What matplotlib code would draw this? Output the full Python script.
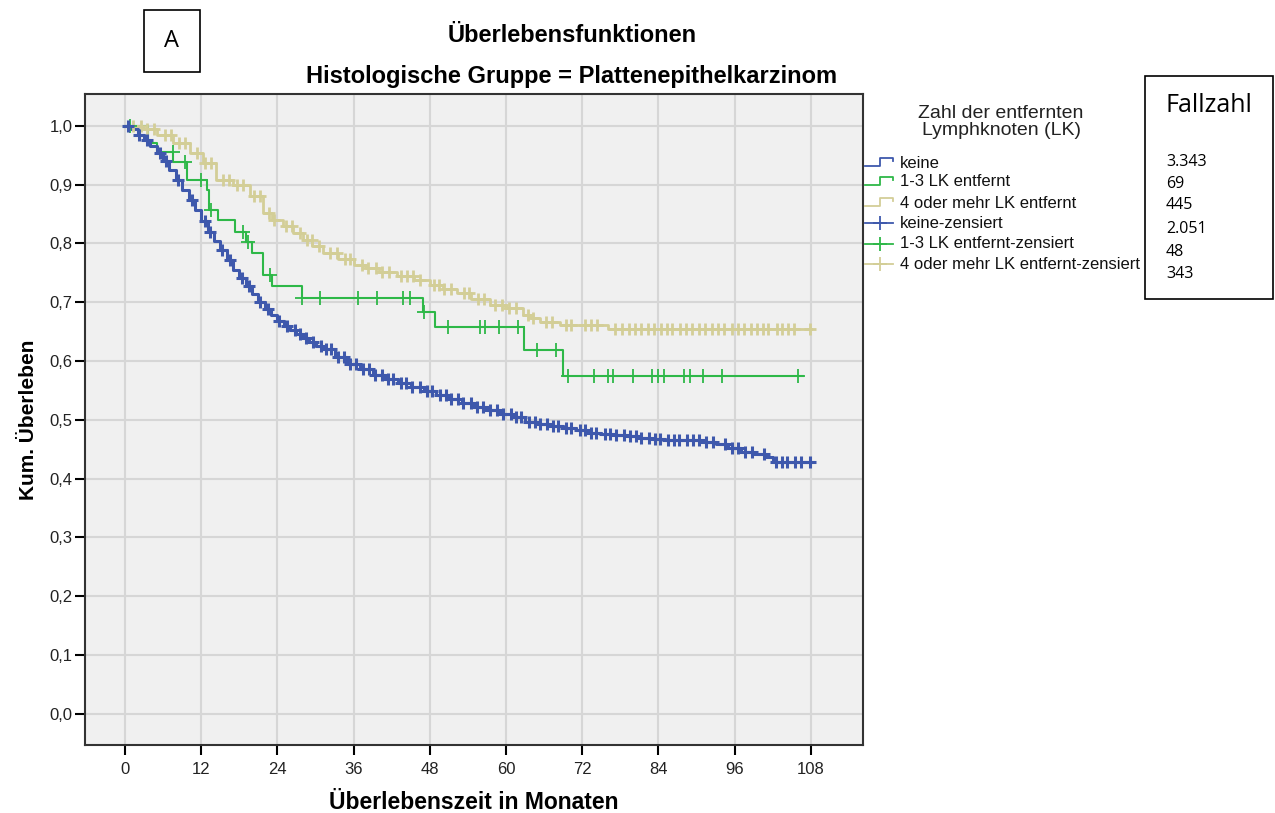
import numpy as np
import matplotlib
matplotlib.use('Agg')
import matplotlib.pyplot as plt
from matplotlib.lines import Line2D
from matplotlib.patches import Rectangle

plt.rcParams['font.family'] = ['Liberation Sans', 'DejaVu Sans']

# Kaplan-Meier steps (months, survival)
keine_t = [0, 1, 2, 3, 4, 5, 6, 7, 8, 9, 10, 11, 12, 13, 14, 15, 16, 17, 18, 19,
           20, 21, 22, 23, 24, 25, 26, 27, 28, 29, 30, 31, 33, 35, 37, 39, 41, 43,
           45, 47, 49, 51, 53, 55, 57, 59, 61, 63, 65, 67, 69, 71, 73, 75, 77, 79,
           81, 83, 85, 89, 91, 93, 95, 97, 99, 101, 102]
keine_s = [1.0, 0.995, 0.985, 0.975, 0.965, 0.954, 0.94, 0.925, 0.908, 0.89,
           0.873, 0.857, 0.838, 0.82, 0.804, 0.789, 0.772, 0.755, 0.741, 0.728,
           0.714, 0.70, 0.689, 0.678, 0.668, 0.66, 0.653, 0.646, 0.639, 0.632,
           0.626, 0.62, 0.606, 0.595, 0.586, 0.577, 0.57, 0.562, 0.555, 0.549,
           0.543, 0.536, 0.528, 0.522, 0.516, 0.51, 0.504, 0.497, 0.492, 0.489,
           0.486, 0.482, 0.478, 0.476, 0.474, 0.472, 0.469, 0.467, 0.466, 0.465,
           0.463, 0.458, 0.452, 0.446, 0.442, 0.437, 0.429]
keine_end = 108
keine_cens = [0.5, 2.2, 3.5, 5.5, 6.4, 8.3, 10.5, 12.6, 13.4, 15.3, 16.6, 18.4, 19.5,
              21.2, 22.5, 24.3, 25.5, 26.7, 27.6, 28.5, 29.6, 30.8, 31.7, 32.5, 33.6,
              34.5, 35.4, 36.3, 37.5, 38.4, 39.3, 40.5, 41.4, 42.2, 43.4, 44.3, 45.2,
              46.4, 47.5, 48.3, 49.6, 50.5, 51.3, 52.4, 53.2, 54.5, 55.5, 56.3, 57.4,
              58.6, 59.5, 60.8, 61.5, 62.4, 63.6, 64.5, 65.3, 66.5, 67.4, 68.2, 69.5,
              70.3, 71.6, 72.5, 73.4, 74.2, 75.5, 76.4, 77.3, 78.6, 79.5, 80.4, 81.3,
              82.5, 83.4, 84.3, 85.5, 86.4, 87.3, 88.5, 89.4, 90.3, 91.5, 92.6, 94.4,
              95.6, 96.5, 97.6, 98.8, 100.6, 102.5, 103.4, 104.3, 105.5, 106.4, 107.9]

lk13_t = [0, 3.6, 5, 7.6, 9.8, 12.9, 13.3, 14.7, 17.3, 19, 20, 21.8, 23.2, 27.8,
          46.9, 48.8, 62.8, 68.9]
lk13_s = [1.0, 0.97, 0.956, 0.939, 0.908, 0.891, 0.857, 0.84, 0.82, 0.803, 0.783,
          0.747, 0.727, 0.707, 0.684, 0.657, 0.619, 0.575]
lk13_end = 106.8
lk13_cens = [0.8, 7.5, 9.5, 12.0, 13.6, 18.5, 19.3, 22.8, 27.9, 30.7, 36.7, 39.6,
             43.8, 44.9, 47.0, 50.9, 55.9, 56.7, 58.9, 61.8, 64.8, 67.9, 69.8, 73.9,
             76.0, 76.9, 80.0, 82.9, 84.0, 84.9, 88.0, 89.0, 91.0, 94.0, 106.0]

lk4_t = [0, 2.8, 5, 7.6, 10.2, 12.3, 14.4, 17, 19.7, 21.7, 23.2, 24.9, 26.5, 28,
         29.5, 31.2, 33.5, 36, 38, 40, 42.8, 45.5, 48, 50, 52.2, 54.5, 57.5, 60,
         62.7, 64, 65.4, 68.5, 76]
lk4_s = [1.0, 0.995, 0.985, 0.971, 0.954, 0.937, 0.908, 0.9, 0.88, 0.852, 0.84,
         0.829, 0.817, 0.805, 0.795, 0.784, 0.774, 0.764, 0.758, 0.752, 0.744,
         0.737, 0.73, 0.722, 0.715, 0.706, 0.696, 0.69, 0.679, 0.673, 0.667,
         0.661, 0.655]
lk4_end = 108
lk4_cens = [1.2, 2.5, 3.4, 4.6, 6.3, 7.2, 8.5, 9.4, 11.3, 12.6, 13.5, 15.4, 16.3,
            17.6, 18.5, 20.3, 21.2, 22.6, 23.5, 25.4, 26.3, 27.5, 28.6, 29.4, 30.5,
            32.3, 33.4, 34.6, 35.5, 37.3, 38.2, 39.5, 40.4, 41.6, 43.5, 44.4, 45.3,
            46.5, 48.6, 49.5, 50.3, 51.4, 53.3, 54.2, 55.6, 56.5, 58.3, 59.4, 60.5,
            61.6, 63.4, 64.3, 66.3, 67.2, 69.4, 70.3, 72.5, 73.4, 74.3, 77.2, 78.3,
            79.4, 80.3, 81.2, 82.4, 83.3, 84.4, 85.3, 86.2, 87.4, 88.3, 89.2, 90.4,
            91.3, 92.5, 93.4, 94.3, 95.6, 96.5, 97.4, 98.6, 99.5, 100.4, 101.3,
            102.6, 103.5, 104.4, 105.3, 107.9]

legend_labels = ['keine', '1-3 LK entfernt', '4 oder mehr LK entfernt',
                 'keine-zensiert', '1-3 LK entfernt-zensiert',
                 '4 oder mehr LK entfernt-zensiert']
fallzahl = ['3.343', '69', '445', '2.051', '48', '343']

c_blue = '#3e58ac'
c_green = '#2eb848'
c_tan = '#d3ce97'

W, H = 1275, 813
fig = plt.figure(figsize=(W / 100, H / 100), dpi=100)


def fx(x):
    return x / W


def fy(y):
    return 1 - y / H


ax = fig.add_axes([fx(85), fy(745), fx(863) - fx(85), fy(94) - fy(745)])
ax.set_facecolor('#f0f0f0')


def km(ax, t, s, end, cens, color, lw, ms, mew):
    tt = list(t) + [end]
    ss = list(s) + [s[-1]]
    ax.step(tt, ss, where='post', color=color, lw=lw, zorder=3)
    idx = np.searchsorted(np.array(t), np.array(cens), side='right') - 1
    cy = np.array(s)[idx]
    ax.plot(cens, cy, ls='none', marker='+', color=color, ms=ms, mew=mew, zorder=4)


km(ax, lk4_t, lk4_s, lk4_end, lk4_cens, c_tan, 2.0, 9, 2.0)
km(ax, lk13_t, lk13_s, lk13_end, lk13_cens, c_green, 1.5, 10, 1.3)
km(ax, keine_t, keine_s, keine_end, keine_cens, c_blue, 2.2, 9, 2.2)

ax.set_xlim(-6.3, 116.2)
ax.set_ylim(-0.053, 1.054)
xt = np.arange(0, 109, 12)
yt = np.arange(0, 11) / 10
ax.set_xticks(xt)
ax.set_xticklabels([str(v) for v in xt])
ax.set_yticks(yt)
ax.set_yticklabels([('%.1f' % v).replace('.', ',') for v in yt])
ax.grid(True, color='#d6d6d6', lw=1.5, zorder=0)
ax.set_axisbelow(True)
ax.tick_params(direction='out', length=7, width=1.5, labelsize=12, pad=2,
               labelcolor='#222222')
ax.tick_params(axis='x', pad=5)
for sp in ax.spines.values():
    sp.set_linewidth(1.5)
    sp.set_color('#333333')

ax.set_xlabel('Überlebenszeit in Monaten', fontsize=16.5, fontweight='bold', labelpad=10)
ax.set_ylabel('Kum. Überleben', fontsize=15, fontweight='bold', labelpad=8)

fig.text(fx(572), fy(35), 'Überlebensfunktionen', fontsize=17, fontweight='bold',
         ha='center', va='center')
fig.text(fx(572), fy(76), 'Histologische Gruppe = Plattenepithelkarzinom', fontsize=17,
         fontweight='bold', ha='center', va='center')

# "A" box
fig.add_artist(Rectangle((fx(144), fy(72)), fx(200) - fx(144), fy(10) - fy(72),
                         transform=fig.transFigure, fill=False, lw=1.2, ec='black'))
fig.text(fx(172), fy(41), 'A', fontsize=17, ha='center', va='center',
         family=['Open Sans', 'DejaVu Sans'])

# legend
fig.text(fx(1001), fy(122), 'Zahl der entfernten\nLymphknoten (LK)', fontsize=14,
         ha='center', va='center', linespacing=1.05, color='#222222')
rows_y = [163, 182, 203, 223, 244, 264]
cols = [c_blue, c_green, c_tan, c_blue, c_green, c_tan]
for i, (lab, yy, c) in enumerate(zip(legend_labels, rows_y, cols)):
    if i < 3:
        xs = [865, 880, 880, 893, 893]
        ys = [yy + 3, yy + 3, yy - 5, yy - 5, yy - 2]
        fig.add_artist(Line2D([fx(v) for v in xs], [fy(v) for v in ys],
                              transform=fig.transFigure, color=c, lw=1.3))
    else:
        fig.add_artist(Line2D([fx(865), fx(893)], [fy(yy), fy(yy)],
                              transform=fig.transFigure, color=c, lw=1.3))
        fig.add_artist(Line2D([fx(880)], [fy(yy)], transform=fig.transFigure,
                              color=c, marker='+', ms=10, mew=1.3, ls='none'))
    fig.text(fx(900), fy(yy), lab, fontsize=12, ha='left', va='center',
             color='#111111')

# Fallzahl box
fig.add_artist(Rectangle((fx(1145), fy(299)), fx(1273) - fx(1145), fy(76) - fy(299),
                         transform=fig.transFigure, fill=False, lw=1.2, ec='black'))
fig.text(fx(1165), fy(105), 'Fallzahl', fontsize=18, ha='left', va='center',
         family=['Open Sans', 'DejaVu Sans'])
num_y = [162, 184, 205, 229, 252, 274]
for n, yy in zip(fallzahl, num_y):
    fig.text(fx(1166), fy(yy), n, fontsize=11.5, ha='left', va='center',
             family=['Open Sans', 'DejaVu Sans'])

plt.savefig('out.png', dpi=100)
